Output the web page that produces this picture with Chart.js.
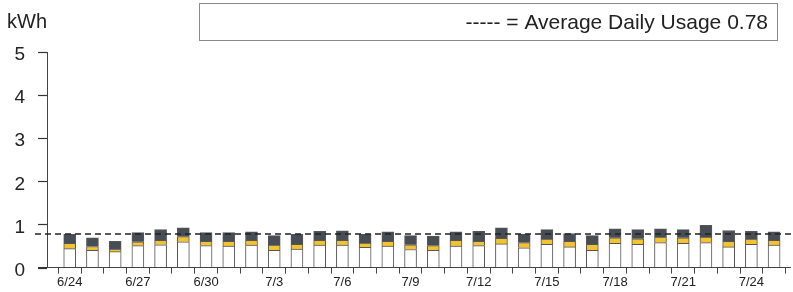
<!DOCTYPE html>
<html>
<head>
<meta charset="utf-8">
<script src="https://cdn.jsdelivr.net/npm/chart.js@4"></script>
<style>
  html, body { margin: 0; padding: 0; background: #ffffff; }
  #wrap { width: 793px; height: 292px; position: relative; }
</style>
</head>
<body>
<div id="wrap"><canvas id="c"></canvas></div>
<script>
const dates = ['6/24','6/25','6/26','6/27','6/28','6/29','6/30','7/1','7/2','7/3','7/4','7/5','7/6','7/7','7/8','7/9',
               '7/10','7/11','7/12','7/13','7/14','7/15','7/16','7/17','7/18','7/19','7/20','7/21','7/22','7/23','7/24','7/25'];
const offPeak = [0.44,0.40,0.37,0.51,0.53,0.60,0.51,0.50,0.52,0.40,0.43,0.52,0.52,0.47,0.50,0.42,
                 0.40,0.50,0.51,0.55,0.46,0.54,0.48,0.40,0.56,0.54,0.58,0.56,0.58,0.48,0.54,0.52];
const midPeak = [0.12,0.09,0.06,0.09,0.10,0.12,0.10,0.11,0.11,0.12,0.11,0.11,0.11,0.10,0.11,0.11,
                 0.11,0.13,0.10,0.13,0.12,0.12,0.13,0.14,0.13,0.13,0.13,0.13,0.13,0.13,0.12,0.11];
const onPeak  = [0.21,0.20,0.18,0.21,0.25,0.20,0.20,0.20,0.20,0.22,0.23,0.21,0.22,0.20,0.22,0.21,
                 0.22,0.20,0.23,0.24,0.20,0.22,0.18,0.20,0.21,0.21,0.19,0.19,0.27,0.25,0.18,0.20];
const yTicks = [0,1,2,3,4,5];
const averageUsage = 0.78;
const unitLabel = 'kWh';
const legendText = '----- = Average Daily Usage ' + averageUsage.toFixed(2);

const toPts = arr => arr.map((v, i) => ({ x: i, y: v }));

const avgLinePlugin = {
  id: 'avgLine',
  afterDatasetsDraw(chart) {
    const ctx = chart.ctx;
    const y = chart.scales.y.getPixelForValue(averageUsage);
    ctx.save();
    ctx.strokeStyle = '#222';
    ctx.lineWidth = 1.5;
    ctx.setLineDash([6, 4]);
    ctx.beginPath();
    ctx.moveTo(35, y);
    ctx.lineTo(793, y);
    ctx.stroke();
    ctx.restore();
  }
};

const yTickMarks = {
  id: 'yTickMarks',
  afterDraw(chart) {
    const ctx = chart.ctx;
    const ys = chart.scales.y;
    const left = chart.chartArea.left;
    ctx.save();
    ctx.strokeStyle = '#333';
    ctx.lineWidth = 1.2;
    ys.ticks.forEach(t => {
      const py = Math.round(ys.getPixelForValue(t.value)) + 0.5;
      ctx.beginPath();
      ctx.moveTo(left - 9, py);
      ctx.lineTo(left, py);
      ctx.stroke();
    });
    ctx.restore();
  }
};

const headerPlugin = {
  id: 'header',
  afterDraw(chart) {
    const ctx = chart.ctx;
    ctx.save();
    ctx.strokeStyle = '#8a8a8a';
    ctx.lineWidth = 1;
    ctx.strokeRect(199.5, 3.5, 578, 37);
    ctx.fillStyle = '#222';
    ctx.textBaseline = 'middle';
    ctx.font = '21px "Liberation Sans", Arial, sans-serif';
    ctx.textAlign = 'right';
    ctx.fillText(legendText, 768, 23);
    ctx.font = '20px "Liberation Sans", Arial, sans-serif';
    ctx.textAlign = 'left';
    ctx.fillText(unitLabel, 7, 22);
    ctx.restore();
  }
};

const segStyle = { borderColor: '#555555', borderWidth: 1, barThickness: 12 };

new Chart(document.getElementById('c'), {
  type: 'bar',
  data: {
    datasets: [
      Object.assign({ label: 'Off-peak', data: toPts(offPeak), backgroundColor: '#ffffff' }, segStyle),
      Object.assign({ label: 'Mid-peak', data: toPts(midPeak), backgroundColor: '#f2c230' }, segStyle),
      Object.assign({ label: 'On-peak',  data: toPts(onPeak),  backgroundColor: '#474d55' }, segStyle)
    ]
  },
  options: {
    responsive: true,
    maintainAspectRatio: false,
    devicePixelRatio: 1,
    animation: false,
    layout: { padding: { top: 52, right: 3, left: 0, bottom: 0 } },
    plugins: { legend: { display: false }, tooltip: { enabled: false }, title: { display: false } },
    scales: {
      x: {
        type: 'linear',
        stacked: true,
        offset: false,
        min: -1,
        max: 31.7,
        afterFit(scale) { scale.height = 22.7; },
        ticks: {
          stepSize: 1,
          includeBounds: false,
          autoSkip: false,
          maxRotation: 0,
          padding: 2,
          color: '#222',
          font: { family: '"Liberation Sans", Arial, sans-serif', size: 13, lineHeight: 1 },
          callback: (v) => (v >= 0 && v % 3 === 0 && dates[v]) ? dates[v] : ''
        },
        grid: { drawOnChartArea: false, tickLength: 6, color: '#444', lineWidth: 1 },
        border: { color: '#444', width: 1 }
      },
      y: {
        stacked: true,
        min: 0,
        max: 5,
        afterFit(scale) { scale.width = 47; },
        ticks: {
          stepSize: 1,
          padding: 13,
          labelOffset: 3,
          color: '#222',
          font: { family: '"Liberation Sans", Arial, sans-serif', size: 19 },
          callback: (v) => yTicks.includes(v) ? String(v) : ''
        },
        grid: { drawOnChartArea: false, drawTicks: true, tickLength: 9, color: '#333', lineWidth: 1 },
        border: { color: '#444', width: 1 }
      }
    }
  },
  plugins: [avgLinePlugin, yTickMarks, headerPlugin]
});
</script>
</body>
</html>
